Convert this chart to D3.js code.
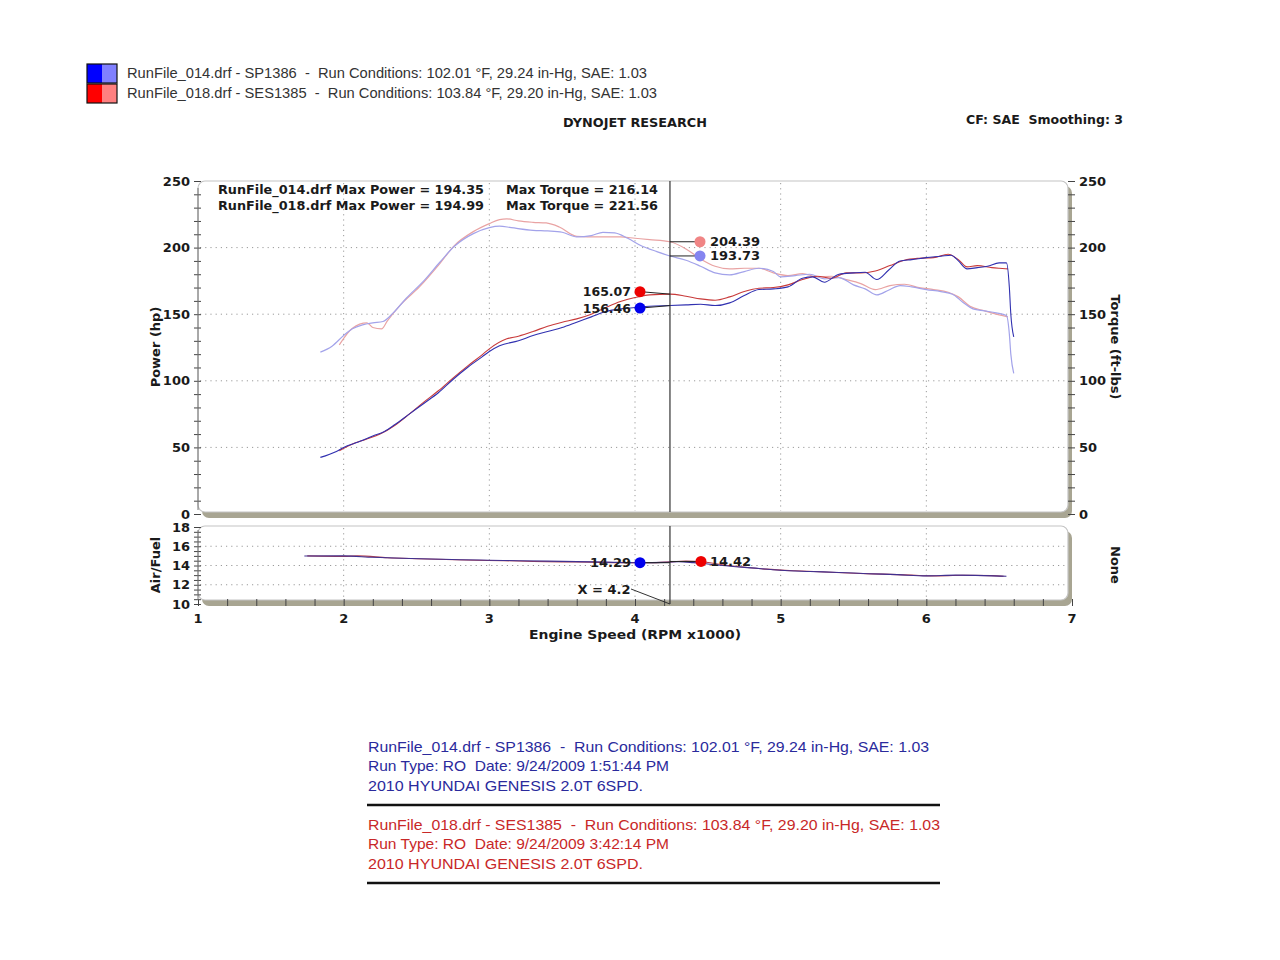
<!DOCTYPE html>
<html><head><meta charset="utf-8">
<script src="https://cdn.jsdelivr.net/npm/d3@7"></script>
<style>body{margin:0;background:#fff} svg{display:block} text{white-space:pre}</style>
</head><body>
<svg id="c" width="1280" height="960"></svg>
<script>
// ---------------- DATA ----------------
const xTicks = [1,2,3,4,5,6,7];
const powerTicks = [0,50,100,150,200,250];
const afrTicks = [10,12,14,16,18];

// [rpm x1000, hp]
const power014 = [[1.84,42.5],[1.95,47],[2.0,50],[2.1,54],[2.2,58.5],[2.28,62],[2.35,67],[2.45,75],[2.55,83],[2.65,91],[2.75,101],[2.85,110],[2.95,118],[3.0,122],[3.07,126.3],[3.2,130],[3.3,134],[3.4,137],[3.5,140],[3.6,144],[3.7,148],[3.8,152],[3.9,154],[4.0,155],[4.1,156],[4.24,156.5],[4.35,157],[4.45,157.5],[4.55,156.5],[4.65,158.5],[4.75,164],[4.85,168.5],[4.95,169],[5.05,170.5],[5.15,177],[5.22,178],[5.3,174],[5.4,180],[5.5,181],[5.58,181.5],[5.66,176],[5.74,183],[5.82,190],[5.9,191],[6.0,192.5],[6.1,193.5],[6.17,194.3],[6.22,190],[6.28,184],[6.35,185],[6.42,186],[6.5,188.5],[6.55,188.5],[6.57,170],[6.58,150],[6.6,133]];
const power018 = [[1.97,47.5],[2.05,52],[2.15,56],[2.25,60],[2.35,66.5],[2.45,75],[2.55,84],[2.65,92.5],[2.75,102],[2.85,111],[2.95,119.5],[3.0,124],[3.12,131.5],[3.2,133.5],[3.3,137],[3.4,141],[3.5,144],[3.6,146.5],[3.7,150],[3.8,155],[3.9,159.5],[4.0,162.5],[4.1,164.5],[4.24,165.07],[4.35,163.5],[4.45,161.5],[4.55,160.5],[4.65,163],[4.75,167],[4.85,169.5],[4.95,170],[5.05,172],[5.15,176],[5.25,178.5],[5.35,177],[5.45,181],[5.55,181],[5.65,182.5],[5.75,186.5],[5.85,190.5],[5.95,192],[6.05,192.5],[6.15,195],[6.22,191],[6.28,185.5],[6.35,186.5],[6.45,185],[6.5,184.5],[6.56,184]];
// [rpm x1000, ft-lbs]
const torque014 = [[1.84,121.5],[1.92,126],[2.0,134],[2.06,139],[2.13,142],[2.2,143.5],[2.27,144.5],[2.34,151],[2.43,162],[2.55,175],[2.66,189],[2.76,201],[2.89,210.5],[3.0,215],[3.07,216.1],[3.15,215],[3.3,213],[3.4,212.5],[3.5,211.5],[3.6,208],[3.7,209],[3.78,211.5],[3.86,211],[3.95,207],[4.05,201],[4.15,197],[4.24,193.7],[4.35,190.5],[4.45,186],[4.55,181],[4.65,179.5],[4.75,182],[4.85,184.5],[4.95,182],[5.0,178],[5.1,179],[5.2,180],[5.3,176.5],[5.4,177.5],[5.5,172],[5.58,169],[5.66,164.5],[5.74,168],[5.82,171.5],[5.9,170.5],[6.0,168.5],[6.1,167],[6.18,165],[6.25,159],[6.32,154],[6.4,152.5],[6.48,151],[6.55,149],[6.57,135],[6.58,120],[6.6,105.5]];
const torque018 = [[1.97,127],[2.06,139.5],[2.16,143.5],[2.2,140],[2.26,139],[2.3,145],[2.39,157],[2.52,170.5],[2.66,188],[2.76,201.5],[2.89,212],[3.0,218],[3.07,221],[3.12,221.56],[3.2,220],[3.3,219],[3.39,218.5],[3.48,215.5],[3.6,208.5],[3.75,208],[3.9,208],[4.0,207],[4.1,206],[4.24,204.39],[4.35,199],[4.45,191.5],[4.55,186],[4.65,184],[4.75,184.5],[4.85,184.5],[4.95,181],[5.05,179],[5.15,180.5],[5.25,178],[5.35,178.5],[5.45,176],[5.55,173],[5.65,168.5],[5.75,171.5],[5.85,172.5],[5.95,170],[6.05,168.5],[6.15,166.5],[6.22,163],[6.3,156],[6.4,152.5],[6.5,149.5],[6.56,148]];
// [rpm x1000, air/fuel]
const afr014 = [[1.73,14.98],[2.0,15.0],[2.2,14.85],[2.4,14.75],[2.6,14.68],[2.8,14.6],[3.0,14.55],[3.2,14.5],[3.4,14.45],[3.6,14.4],[3.8,14.35],[4.03,14.29],[4.2,14.32],[4.3,14.4],[4.4,14.3],[4.5,14.15],[4.6,14.0],[4.8,13.75],[5.0,13.5],[5.2,13.38],[5.4,13.28],[5.6,13.15],[5.8,13.05],[6.0,12.92],[6.2,13.0],[6.4,12.95],[6.55,12.88]];
const afr018 = [[1.75,15.0],[2.0,14.95],[2.1,15.0],[2.3,14.8],[2.5,14.7],[2.7,14.62],[2.9,14.55],[3.1,14.5],[3.3,14.42],[3.5,14.38],[3.7,14.35],[3.9,14.3],[4.1,14.3],[4.25,14.38],[4.35,14.45],[4.45,14.42],[4.55,14.2],[4.7,13.9],[4.9,13.62],[5.1,13.45],[5.3,13.33],[5.5,13.2],[5.7,13.1],[5.9,13.0],[6.05,12.92],[6.25,12.98],[6.45,12.95],[6.53,12.88]];

const cursorRpm = 4.24;
const cursorPower = [165.07, 156.46];   // 018, 014
const cursorTorque = [204.39, 193.73];  // 018, 014
const cursorAfr = [14.29, 14.42];       // 014, 018
const maxPower = [194.35, 194.99];
const maxTorque = [216.14, 221.56];

const legendLines = ["RunFile_014.drf - SP1386  -  Run Conditions: 102.01 °F, 29.24 in-Hg, SAE: 1.03",
                     "RunFile_018.drf - SES1385  -  Run Conditions: 103.84 °F, 29.20 in-Hg, SAE: 1.03"];
const infoBlue = ["RunFile_014.drf - SP1386  -  Run Conditions: 102.01 °F, 29.24 in-Hg, SAE: 1.03","Run Type: RO  Date: 9/24/2009 1:51:44 PM","2010 HYUNDAI GENESIS 2.0T 6SPD."];
const infoRed = ["RunFile_018.drf - SES1385  -  Run Conditions: 103.84 °F, 29.20 in-Hg, SAE: 1.03","Run Type: RO  Date: 9/24/2009 3:42:14 PM","2010 HYUNDAI GENESIS 2.0T 6SPD."];

// ---------------- DRAW ----------------
const svg = d3.select('#c');
const BOLD = "'DejaVu Sans', Verdana, sans-serif";
const ARIAL = "'Liberation Sans', Arial, sans-serif";

const x = d3.scaleLinear().domain([1,7]).range([198,1072]);
const yP = d3.scaleLinear().domain([0,250]).range([514,181]);
const yA = d3.scaleLinear().domain([10,18]).range([604,527]);

function txt(g, t, px, py, o) {
  const e = g.append('text').attr('x',px).attr('y',py).text(t)
    .attr('xml:space','preserve')
    .attr('font-family', o.ff || BOLD).attr('font-size', o.fs || 13)
    .attr('font-weight', o.fw || 'bold').attr('fill', o.fill || '#1a1a1a')
    .attr('text-anchor', o.anchor || 'start').attr('dominant-baseline', o.db || 'central');
  if (o.len) e.attr('textLength', o.len).attr('lengthAdjust','spacingAndGlyphs');
  if (o.rot) e.attr('transform', `rotate(${o.rot},${px},${py})`);
  return e;
}

// legend
[['#0000ff','#8080ff'],['#ff0000','#ff8080']].forEach((c,i)=>{
  const y0 = 64 + i*20;
  svg.append('rect').attr('x',87).attr('y',y0).attr('width',15).attr('height',19).attr('fill',c[0]);
  svg.append('rect').attr('x',102).attr('y',y0).attr('width',15).attr('height',19).attr('fill',c[1]);
  svg.append('rect').attr('x',87).attr('y',y0).attr('width',30).attr('height',19).attr('fill','none').attr('stroke','#111').attr('stroke-width',1.2);
  txt(svg, legendLines[i], 127, 73 + i*19.5, {ff:ARIAL, fw:'normal', fs:14, fill:'#333', len: i===0?520:530});
});
txt(svg, 'DYNOJET RESEARCH', 635, 123, {fs:12, anchor:'middle', len:144});
txt(svg, 'CF: SAE  Smoothing: 3', 1123, 120, {fs:12, anchor:'end', len:157});

// panel frames with shadow
function panel(y0, y1) {
  svg.append('rect').attr('x',202).attr('y',y0+5).attr('width',1072-202).attr('height',y1-y0+1)
    .attr('rx',7).attr('fill','#a8a592');
  svg.append('rect').attr('x',198).attr('y',y0).attr('width',1068-198).attr('height',y1-y0)
    .attr('rx',7).attr('fill','#fff').attr('stroke','#c4c4c4').attr('stroke-width',1.2);
}
panel(181, 512);
panel(526, 600);

// gridlines
const grid = svg.append('g').attr('stroke','#9a9a9a').attr('stroke-width',1).attr('stroke-dasharray','1.2,4');
[2,3,4,5,6].forEach(v=>{
  grid.append('line').attr('x1',x(v)).attr('x2',x(v)).attr('y1',183).attr('y2',511);
  grid.append('line').attr('x1',x(v)).attr('x2',x(v)).attr('y1',528).attr('y2',599);
});
[50,100,150,200].forEach(v=>grid.append('line').attr('x1',200).attr('x2',1066).attr('y1',yP(v)).attr('y2',yP(v)));
[12,14,16].forEach(v=>grid.append('line').attr('x1',200).attr('x2',1066).attr('y1',yA(v)).attr('y2',yA(v)));

// axes ticks
const tickC = '#444';
const axL = svg.append('g').attr('transform','translate(201,0)');
axL.call(d3.axisLeft(yP).tickValues(d3.range(0,251,10)).tickSize(7).tickFormat(''));
const axR = svg.append('g').attr('transform','translate(1068,0)');
axR.call(d3.axisRight(yP).tickValues(d3.range(0,251,10)).tickSize(7).tickFormat(''));
const axLA = svg.append('g').attr('transform','translate(201,0)');
axLA.call(d3.axisLeft(yA).tickValues(d3.range(10,18.01,0.5)).tickSize(7).tickFormat(''));
const axB = svg.append('g').attr('transform','translate(0,606)');
axB.call(d3.axisTop(x).tickValues(d3.range(1,7.01,0.2)).tickSize(7).tickFormat(''));
[axL,axR,axLA,axB].forEach(a=>{ a.select('.domain').remove(); a.selectAll('line').attr('stroke',tickC); });
svg.append('line').attr('x1',198).attr('x2',198).attr('y1',188).attr('y2',510).attr('stroke','#777');
svg.append('line').attr('x1',198).attr('x2',198).attr('y1',530).attr('y2',600).attr('stroke','#777');

// tick labels
powerTicks.forEach(v=>{
  txt(svg, v, 190, yP(v), {anchor:'end'});
  txt(svg, v, 1079, yP(v), {anchor:'start'});
});
afrTicks.forEach(v=>txt(svg, v, 190, yA(v), {anchor:'end'}));
xTicks.forEach(v=>txt(svg, v, x(v), 618, {anchor:'middle'}));
txt(svg, 'Engine Speed (RPM x1000)', 635, 634, {anchor:'middle', len:212});
txt(svg, 'Power (hp)', 155, 347, {anchor:'middle', rot:-90});
txt(svg, 'Torque (ft-lbs)', 1115, 347, {anchor:'middle', rot:90});
txt(svg, 'Air/Fuel', 155, 565, {anchor:'middle', rot:-90});
txt(svg, 'None', 1115, 565, {anchor:'middle', rot:90});

// max text
txt(svg, `RunFile_014.drf Max Power = ${maxPower[0].toFixed(2)}`, 218, 190, {fs:12, len:266});
txt(svg, `RunFile_018.drf Max Power = ${maxPower[1].toFixed(2)}`, 218, 206, {fs:12, len:266});
txt(svg, `Max Torque = ${maxTorque[0].toFixed(2)}`, 506, 190, {fs:12, len:152});
txt(svg, `Max Torque = ${maxTorque[1].toFixed(2)}`, 506, 206, {fs:12, len:152});

// curves
const lineP = d3.line().x(d=>x(d[0])).y(d=>yP(d[1])).curve(d3.curveMonotoneX);
const lineA = d3.line().x(d=>x(d[0])).y(d=>yA(d[1])).curve(d3.curveMonotoneX);
function path(data, gen, color, w) {
  svg.append('path').datum(data).attr('d', gen).attr('fill','none').attr('stroke',color).attr('stroke-width',w).attr('stroke-linejoin','round');
}
path(torque018, lineP, '#e9a3a3', 1.2);
path(torque014, lineP, '#a3a3ea', 1.2);
path(power018, lineP, '#c83a3a', 1.1);
path(power014, lineP, '#3030b0', 1.1);
path(afr018, lineA, '#b04050', 1.1);
path(afr014, lineA, '#403090', 1.1);

// cursor
const cx = x(cursorRpm);
svg.append('line').attr('x1',cx).attr('x2',cx).attr('y1',181).attr('y2',512).attr('stroke','#333').attr('stroke-width',1.2);
svg.append('line').attr('x1',cx).attr('x2',cx).attr('y1',526).attr('y2',604).attr('stroke','#333').attr('stroke-width',1.2);

// marker with leader to the curve value at the cursor; marker y may be nudged to keep labels apart
function marker(mx, my, cy, color) {
  svg.append('line').attr('x1',mx).attr('y1',my).attr('x2',cx).attr('y2',cy).attr('stroke','#222').attr('stroke-width',1);
  svg.append('circle').attr('cx',mx).attr('cy',my).attr('r',5.5).attr('fill',color);
}
const tY = cursorTorque.map(v=>yP(v));
const pY = cursorPower.map(v=>yP(v));
const pM = [pY[0]-2.5, pY[1]+2.5];
// torque markers (right)
marker(700, tY[0], tY[0], '#f08585');
marker(700, tY[1], tY[1], '#8585f0');
txt(svg, cursorTorque[0].toFixed(2), 710, tY[0], {});
txt(svg, cursorTorque[1].toFixed(2), 710, tY[1], {});
// power markers (left)
marker(640, pM[0], pY[0], '#ee0000');
marker(640, pM[1], pY[1], '#0000ee');
txt(svg, cursorPower[0].toFixed(2), 631, pM[0], {anchor:'end', fs:12.5});
txt(svg, cursorPower[1].toFixed(2), 631, pM[1], {anchor:'end', fs:12.5});
// afr markers
marker(640, yA(cursorAfr[0]), yA(cursorAfr[0]), '#0000ee');
marker(701, yA(cursorAfr[1]), yA(cursorAfr[1]), '#ee0000');
txt(svg, cursorAfr[0].toFixed(2), 631, yA(cursorAfr[0]), {anchor:'end'});
txt(svg, cursorAfr[1].toFixed(2), 710, yA(cursorAfr[1]), {});
txt(svg, `X = ${cursorRpm.toFixed(1)}`, 604, 589, {anchor:'middle'});
svg.append('line').attr('x1',631).attr('y1',589).attr('x2',cx).attr('y2',604).attr('stroke','#333');

// info block
infoBlue.forEach((t,i)=>txt(svg, t, 368, 746 + i*19.5, {ff:ARIAL, fw:'normal', fs:15, fill:'#2a2a9c', len:[561,301,275][i]}));
svg.append('line').attr('x1',367).attr('x2',940).attr('y1',805).attr('y2',805).attr('stroke','#111').attr('stroke-width',2.5);
infoRed.forEach((t,i)=>txt(svg, t, 368, 824 + i*19.5, {ff:ARIAL, fw:'normal', fs:15, fill:'#c82828', len:[572,301,275][i]}));
svg.append('line').attr('x1',367).attr('x2',940).attr('y1',883).attr('y2',883).attr('stroke','#111').attr('stroke-width',2.5);
</script>
</body></html>
